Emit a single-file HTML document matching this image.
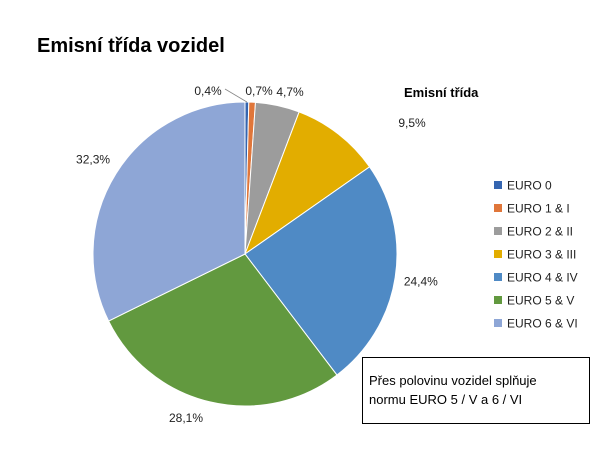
<!DOCTYPE html>
<html><head><meta charset="utf-8"><style>
body{margin:0;background:#fff;}
svg{display:block;font-family:"Liberation Sans",sans-serif;}
</style></head><body>
<svg width="600" height="450" viewBox="0 0 600 450">
<text x="37" y="52" font-size="20" font-weight="bold" fill="#000">Emisní třída vozidel</text>
<g id="slices"></g>
<g id="labels"></g>
<text x="404" y="97" font-size="13" font-weight="bold" fill="#000">Emisní třída</text>
<g id="legend"></g>
<g>
<rect x="362.5" y="357.5" width="227" height="66" fill="#fff" stroke="#000" stroke-width="1"/>
<text x="369" y="385" font-size="13" fill="#000">Přes polovinu vozidel splňuje</text>
<text x="369" y="404" font-size="13" fill="#000">normu EURO 5 / V a 6 / VI</text>
</g>
</svg>
<script>
const categories=["EURO 0","EURO 1 & I","EURO 2 & II","EURO 3 & III","EURO 4 & IV","EURO 5 & V","EURO 6 & VI"];
const values=[0.4,0.7,4.7,9.5,24.4,28.1,32.3];
const valueLabels=["0,4%","0,7%","4,7%","9,5%","24,4%","28,1%","32,3%"];
const colors=["#3565b0","#e0763a","#9c9c9c","#e2ad00","#4f8ac5","#62993f","#8ea6d6"];
const labelRadius=[160,160,165,212,178,175,179];
const cx=245,cy=254,r=152;
const NS="http://www.w3.org/2000/svg";
const total=values.reduce((a,b)=>a+b,0);
const sg=document.getElementById('slices'),lg=document.getElementById('labels'),leg=document.getElementById('legend');
function pt(a,R){return [cx+R*Math.sin(a),cy-R*Math.cos(a)];}
let cum=0;
values.forEach((v,i)=>{
  const a0=cum/total*2*Math.PI;cum+=v;const a1=cum/total*2*Math.PI;
  const p0=pt(a0,r),p1=pt(a1,r);
  const p=document.createElementNS(NS,'path');
  p.setAttribute('d',`M${cx},${cy}L${p0[0]},${p0[1]}A${r},${r} 0 ${a1-a0>Math.PI?1:0} 1 ${p1[0]},${p1[1]}Z`);
  p.setAttribute('fill',colors[i]);p.setAttribute('stroke','#fff');p.setAttribute('stroke-width','1');
  
  
  sg.appendChild(p);
  const am=(a0+a1)/2;
  let lp=pt(am,labelRadius[i]);
  if(i===0){lp=[208,91];}
  if(i===1){lp=[259,91];}
  if(i===2){lp=[290,92];}
  if(i===3){lp=[412,123];}
  if(i===5){lp=[186,418];}
  if(i===0){
    const l=document.createElementNS(NS,'polyline');
    const e=pt(am,r);
    l.setAttribute('points',`225,89 ${e[0]},${e[1]}`);
    l.setAttribute('stroke','#888');l.setAttribute('fill','none');l.setAttribute('stroke-width','0.8');
    
    
    lg.appendChild(l);
  }
  const t=document.createElementNS(NS,'text');
  t.setAttribute('x',lp[0]);t.setAttribute('y',lp[1]+4);
  t.setAttribute('text-anchor','middle');t.setAttribute('font-size','12');t.setAttribute('fill','#222');
  t.textContent=valueLabels[i];
  
  
  lg.appendChild(t);
  const y=185+i*23;
  const s=document.createElementNS(NS,'rect');
  s.setAttribute('x',494);s.setAttribute('y',y-4);s.setAttribute('width',8);s.setAttribute('height',8);s.setAttribute('fill',colors[i]);
  
  
  leg.appendChild(s);
  const lt=document.createElementNS(NS,'text');
  lt.setAttribute('x',507);lt.setAttribute('y',y+4.5);lt.setAttribute('font-size','12');lt.setAttribute('fill','#222');
  lt.textContent=categories[i];
  
  
  leg.appendChild(lt);
});
</script>
</body></html>
